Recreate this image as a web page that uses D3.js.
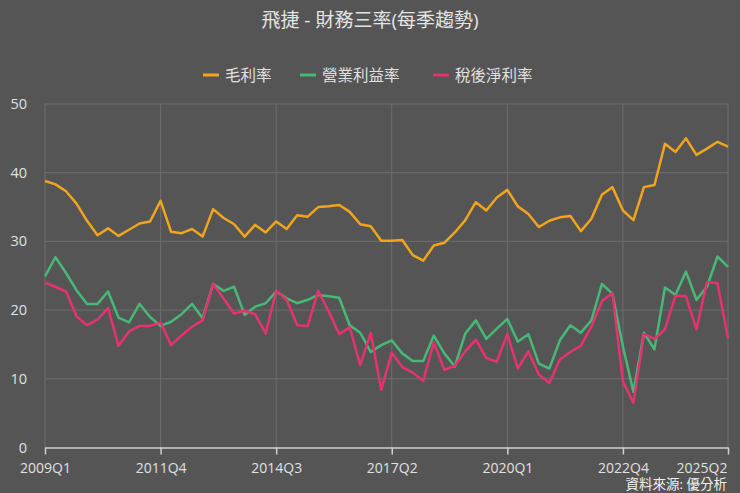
<!DOCTYPE html>
<html>
<head>
<meta charset="utf-8">
<script src="https://cdn.jsdelivr.net/npm/d3@7"></script>
<style>
  html, body { margin: 0; padding: 0; background: #555555; }
  svg { display: block; }
  text { font-family: "Open Sans", "Noto Sans CJK TC", sans-serif; }
</style>
</head>
<body>
<svg id="chart" width="740" height="493"></svg>
<script>
const quarters = [];
for (let y = 2009; y <= 2025; y++) for (let q = 1; q <= 4; q++) {
  if (y === 2025 && q > 2) break;
  quarters.push(y + "Q" + q);
}
const tickLabels = ["2009Q1", "2011Q4", "2014Q3", "2017Q2", "2020Q1", "2022Q4", "2025Q2"];
const yTicks = [0, 10, 20, 30, 40, 50];
const seriesNames = ["毛利率", "營業利益率", "稅後淨利率"];
const grossMargin = [38.8,38.3,37.3,35.5,33.0,30.9,31.9,30.8,31.7,32.6,32.9,35.9,31.4,31.2,31.8,30.7,34.7,33.4,32.5,30.7,32.4,31.3,32.9,31.8,33.8,33.6,35.0,35.1,35.3,34.3,32.5,32.2,30.1,30.1,30.2,28.0,27.2,29.4,29.8,31.3,33.1,35.7,34.5,36.4,37.5,35.1,34.0,32.1,33.0,33.5,33.7,31.5,33.3,36.8,37.9,34.5,33.1,37.9,38.2,44.2,43.0,45.0,42.6,43.5,44.5,43.8];
const operatingMargin = [24.9,27.7,25.4,22.9,20.9,20.9,22.7,18.9,18.2,20.9,19.0,17.7,18.3,19.4,20.9,18.8,23.8,22.8,23.4,19.3,20.5,21.0,22.7,21.7,21.0,21.5,22.2,22.0,21.8,17.8,16.7,13.9,14.9,15.6,13.7,12.6,12.6,16.3,13.7,11.8,16.6,18.5,15.8,17.3,18.7,15.4,16.5,12.2,11.5,15.6,17.8,16.7,18.5,23.8,22.4,14.7,8.1,16.7,14.3,23.3,22.2,25.6,21.5,23.4,27.8,26.3];
const netMargin = [24.0,23.4,22.7,19.1,17.8,18.6,20.3,14.8,16.9,17.7,17.7,18.2,14.9,16.3,17.6,18.5,23.8,21.7,19.5,19.9,19.4,16.6,22.8,21.5,17.8,17.7,22.8,19.8,16.5,17.5,12.0,16.7,8.4,13.8,11.7,10.9,9.7,15.3,11.3,11.9,14.0,15.7,13.0,12.5,16.5,11.5,14.0,10.6,9.4,12.8,13.9,14.8,17.6,21.3,22.5,9.6,6.5,16.5,15.8,17.2,22.1,22.0,17.2,24.1,23.9,15.9];
const colors = ["#f2a41c", "#47b977", "#e6336f"];
const series = [grossMargin, operatingMargin, netMargin];

const svg = d3.select("#chart");
const W = 740, H = 493;
const m = { left: 45, right: 12, top: 104, bottom: 45.5 };

const x = d3.scalePoint().domain(quarters).range([m.left, W - m.right]);
const y = d3.scaleLinear().domain([0, 50]).range([H - m.bottom, m.top]);

// title
svg.append("text").attr("x", W / 2).attr("y", 27).attr("text-anchor", "middle")
  .attr("fill", "#e4e4e4").style("font-size", "19px").text("飛捷 - 財務三率(每季趨勢)");

// grid horizontal
svg.append("g").selectAll("line").data(yTicks.filter(d => d > 0)).join("line")
  .attr("x1", m.left).attr("x2", W - m.right)
  .attr("y1", d => y(d)).attr("y2", d => y(d))
  .attr("stroke", "#6e6e6e").attr("stroke-width", 1);
// grid vertical
svg.append("g").selectAll("line").data(tickLabels).join("line")
  .attr("x1", d => x(d)).attr("x2", d => x(d))
  .attr("y1", y(50)).attr("y2", y(0))
  .attr("stroke", "#6e6e6e").attr("stroke-width", 1);

// y labels
svg.append("g").selectAll("text").data(yTicks).join("text")
  .attr("x", 27).attr("y", d => y(d) + 5).attr("text-anchor", "end")
  .attr("fill", "#e0e0e0").style("font-size", "14.5px").text(d => d);

// x axis
const xAxis = d3.axisBottom(x).tickValues(tickLabels).tickSize(7).tickSizeOuter(0);
const gx = svg.append("g").attr("transform", `translate(0,${y(0)})`).call(xAxis);
gx.select(".domain").attr("stroke", "#d0d0d0").attr("stroke-width", 1.5);
gx.selectAll(".tick line").attr("stroke", "#d0d0d0").attr("stroke-width", 1.5);
gx.selectAll(".tick text").attr("fill", "#e0e0e0").style("font-size", "14px")
  .attr("dy", "1.1em")
  .attr("text-anchor", d => d === tickLabels[tickLabels.length - 1] ? "end" : "middle")
  .attr("dx", d => d === tickLabels[tickLabels.length - 1] ? "-1" : "0");

// lines
const line = d3.line().x((d, i) => x(quarters[i])).y(d => y(d));
series.forEach((s, k) => {
  svg.append("path").datum(s).attr("d", line)
    .attr("fill", "none").attr("stroke", colors[k]).attr("stroke-width", 2.5)
    .attr("stroke-linejoin", "round");
});

// legend
const legendX = [203, 300, 433];
const lg = svg.append("g");
seriesNames.forEach((n, k) => {
  lg.append("line").attr("x1", legendX[k]).attr("x2", legendX[k] + 16)
    .attr("y1", 75).attr("y2", 75).attr("stroke", colors[k]).attr("stroke-width", 3);
  lg.append("text").attr("x", legendX[k] + 22).attr("y", 80.5)
    .attr("fill", "#e0e0e0").style("font-size", "15.5px").text(n);
});

// source
svg.append("text").attr("x", 727).attr("y", 489).attr("text-anchor", "end")
  .attr("fill", "#f0f0f0").style("font-size", "13.5px").text("資料來源: 優分析");
</script>
</body>
</html>
